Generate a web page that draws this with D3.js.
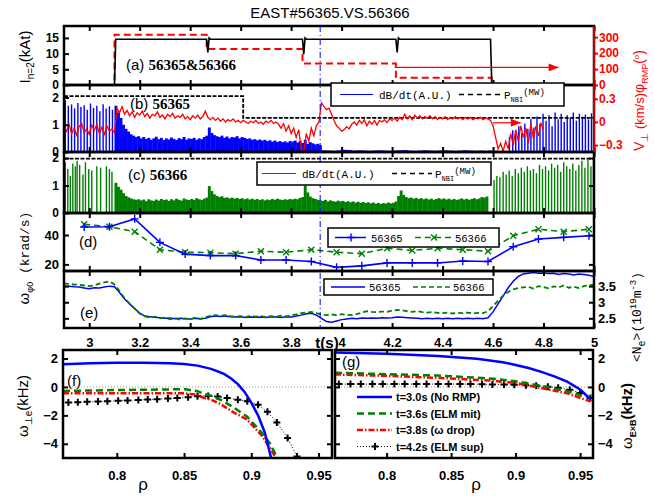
<!DOCTYPE html>
<html>
<head>
<meta charset="utf-8">
<script src="https://cdn.jsdelivr.net/npm/d3@7"></script>
<style>
body { margin: 0; background: #fff; }
svg { display: block; }
</style>
</head>
<body>
<div id="chart"></div>
<script>
// ---------- data ----------
const timeTickVals = [3.0, 3.2, 3.4, 3.6, 3.8, 4.0, 4.2, 4.4, 4.6, 4.8, 5.0];
const markerT = 3.915;

// (a) coil current and phase
const coilT = [2.90, 3.10, 3.105, 3.465, 3.47, 3.475, 3.48, 3.845, 3.85, 3.855, 3.86, 4.215, 4.22, 4.225, 4.23, 4.59, 4.595, 5.00];
const coilI = [0, 0, 14.6, 14.6, 10.4, 15.0, 14.6, 14.6, 9.8, 15.0, 14.6, 14.6, 10.4, 15.0, 14.6, 14.6, 0, 0];
const phaseT = [2.90, 3.10, 3.10, 3.465, 3.465, 3.845, 3.845, 4.215, 4.215, 4.595, 4.595, 5.00];
const phaseDeg = [0, 0, 315, 315, 225, 225, 135, 135, 45, 45, 0, 0];
const phaseArrowT = [4.21, 4.86], phaseArrowDeg = 110;

// (b) shot 56365
const nbi65T = [2.90, 3.61, 3.61, 5.00];
const nbi65P = [2.05, 2.05, 1.25, 1.25];
const elm65T = [2.905, 2.917, 2.930, 2.942, 2.955, 2.967, 2.980, 2.992, 3.005, 3.017, 3.030, 3.042, 3.055, 3.067, 3.080, 3.092];
const elm65H = [1.90, 1.70, 1.75, 1.60, 1.80, 1.65, 1.72, 1.55, 1.78, 1.62, 1.70, 1.50, 1.75, 1.60, 1.68, 1.55];
const dense65T0 = 3.10, denseStep = 0.01;
const dense65 = [
  1.70, 1.45, 1.25, 1.00, 0.85, 0.75, 0.65, 0.60, 0.55, 0.58,
  0.50, 0.55, 0.48, 0.52, 0.45, 0.50, 0.56, 0.47, 0.52, 0.44,
  0.50, 0.46, 0.53, 0.48, 0.44, 0.51, 0.47, 0.55, 0.45, 0.50,
  0.48, 0.52, 0.45, 0.50, 0.47, 0.55, 0.60, 0.90, 0.70, 0.62,
  0.58, 0.55, 0.60, 0.52, 0.57, 0.50, 0.55, 0.53, 0.58, 0.50,
  0.55, 0.52, 0.48, 0.50, 0.45, 0.47, 0.43, 0.46, 0.42, 0.45,
  0.40, 0.43, 0.38, 0.42, 0.37, 0.40, 0.36, 0.39, 0.35, 0.40,
  0.38, 0.42, 0.35, 0.40, 0.33, 0.45, 0.30, 0.36, 0.32, 0.28,
  0.30, 0.25];
const quiet65T0 = 3.92, quietStep = 0.02;
const quiet65 = [
  0.06, 0.05, 0.04, 0.06, 0.08, 0.07, 0.05, 0.06, 0.05, 0.04,
  0.05, 0.06, 0.05, 0.04, 0.05, 0.06, 0.07, 0.05, 0.04, 0.05,
  0.06, 0.05, 0.04, 0.05, 0.06, 0.05, 0.04, 0.05, 0.06, 0.05,
  0.04, 0.05, 0.04, 0.05, 0.04];
const late65T = [4.665, 4.678, 4.690, 4.702, 4.714, 4.726, 4.738, 4.750, 4.762, 4.774, 4.786, 4.798, 4.810, 4.822, 4.834, 4.846, 4.858, 4.870, 4.882, 4.894, 4.906, 4.918, 4.930, 4.942, 4.954, 4.966, 4.978, 4.990];
const late65H = [0.55, 0.80, 0.65, 0.95, 0.70, 1.05, 0.85, 1.20, 0.90, 1.30, 1.05, 1.40, 1.15, 1.35, 0.95, 1.45, 1.20, 1.40, 1.10, 1.35, 1.25, 1.45, 1.15, 1.40, 1.30, 1.38, 1.20, 1.42];
const vPerpT0 = 2.90, vPerpStep = 0.01;
const vPerp = [
  -0.05, -0.12, -0.03, -0.15, -0.08, -0.17, -0.06, -0.02, -0.14, -0.09,
  -0.16, -0.04, -0.11, -0.03, -0.15, -0.07, -0.16, -0.05, -0.12, -0.09,
  -0.14, 0.18, 0.12, 0.20, 0.10, 0.15, 0.08, 0.13, 0.06, 0.12,
  0.09, 0.14, 0.07, 0.11, 0.05, 0.10, 0.08, 0.13, 0.06, 0.09,
  0.04, 0.10, 0.07, 0.11, 0.05, 0.08, 0.06, 0.10, 0.04, 0.07,
  0.03, 0.08, 0.05, 0.09, 0.04, 0.07, 0.14, 0.06, 0.03, 0.06,
  0.02, 0.05, 0.01, 0.04, 0.00, 0.03, 0.01, 0.04, 0.00, 0.02,
  -0.01, 0.02, 0.00, -0.02, 0.01, -0.01, 0.02, -0.02, 0.00, -0.03,
  0.01, -0.01, 0.02, -0.02, 0.00, -0.03, -0.08, -0.02, -0.12, -0.05,
  -0.15, -0.08, -0.20, -0.10, -0.35, -0.40, -0.15, -0.25, -0.08, -0.18,
  -0.05, 0.00, 0.25, 0.20, 0.16, 0.18, 0.10, 0.02, -0.05, -0.08,
  -0.12, -0.10, -0.06, -0.09, -0.03, 0.00, -0.04, 0.02, -0.02, 0.03,
  -0.05, 0.01, -0.03, 0.02, -0.04, 0.02, 0.00, 0.03, -0.01, 0.04,
  0.02, 0.05, 0.01, 0.06, 0.03, 0.10, 0.04, 0.08, 0.03, 0.09,
  0.05, 0.08, 0.04, 0.07, 0.05, 0.08, 0.04, 0.07, 0.03, 0.06,
  0.04, 0.07, 0.03, 0.06, 0.04, 0.07, 0.04, 0.06, 0.03, 0.06,
  0.04, 0.06, 0.03, 0.05, 0.04, 0.06, 0.03, 0.05, 0.04, 0.02,
  -0.05, -0.20, -0.35, -0.28, -0.38, -0.25, -0.35, -0.15, -0.30, -0.10,
  -0.25, -0.05, -0.20, -0.08, -0.28, -0.02, -0.22, -0.05, -0.18, -0.02,
  -0.10];
const vArrowT = [4.60, 4.71], vArrowV = -0.01;

// (c) shot 56366
const nbi66T = [2.90, 5.00];
const nbi66P = [1.98, 1.98];
const elm66T = [2.905, 2.915, 2.925, 2.935, 2.945, 2.952, 2.962, 2.975, 2.985, 2.998, 3.010, 3.030, 3.045, 3.068, 3.080, 3.090];
const elm66H = [1.85, 1.60, 1.35, 1.80, 1.70, 1.90, 1.75, 1.40, 1.85, 1.60, 1.55, 1.70, 1.65, 1.70, 1.60, 1.50];
const dense66T0 = 3.10;
const dense66 = [
  1.10, 0.95, 0.85, 0.72, 0.62, 0.57, 0.53, 0.50, 0.48, 0.50,
  0.46, 0.49, 0.43, 0.50, 0.46, 0.44, 0.49, 0.45, 0.51, 0.47,
  0.49, 0.44, 0.50, 0.46, 0.52, 0.48, 0.45, 0.53, 0.49, 0.47,
  0.51, 0.48, 0.54, 0.50, 0.47, 0.52, 0.56, 0.98, 0.80, 0.68,
  0.62, 0.58, 0.61, 0.55, 0.57, 0.53, 0.56, 0.52, 0.55, 0.51,
  0.54, 0.50, 0.53, 0.49, 0.52, 0.48, 0.51, 0.47, 0.50, 0.46,
  0.49, 0.47, 0.51, 0.48, 0.52, 0.49, 0.47, 0.50, 0.48, 0.51,
  0.49, 0.52, 0.50, 0.55, 0.58, 1.00, 0.75, 0.60, 0.54, 0.51,
  0.48, 0.46, 0.44, 0.48, 0.42, 0.46, 0.43, 0.41, 0.45, 0.42,
  0.44, 0.40, 0.43, 0.39, 0.42, 0.38, 0.41, 0.37, 0.40, 0.36,
  0.39, 0.35, 0.38, 0.34, 0.37, 0.33, 0.36, 0.34, 0.38, 0.35,
  0.37, 0.42, 0.62, 0.82, 0.66, 0.58, 0.54, 0.56, 0.52, 0.55,
  0.51, 0.54, 0.50, 0.53, 0.49, 0.52, 0.48, 0.51, 0.54, 0.50,
  0.53, 0.49, 0.52, 0.48, 0.51, 0.47, 0.50, 0.53, 0.49, 0.52,
  0.48, 0.51, 0.54, 0.50, 0.53, 0.58, 0.56, 0.60];
const late66T = [4.604, 4.615, 4.627, 4.640, 4.652, 4.664, 4.676, 4.688, 4.700, 4.712, 4.724, 4.736, 4.748, 4.760, 4.772, 4.784, 4.796, 4.808, 4.820, 4.832, 4.844, 4.856, 4.868, 4.880, 4.892, 4.904, 4.916, 4.928, 4.940, 4.952, 4.964, 4.976, 4.988, 4.998];
const late66H = [1.20, 1.35, 1.30, 1.50, 1.40, 1.55, 1.35, 1.60, 1.45, 1.65, 1.50, 1.70, 1.55, 1.60, 1.45, 1.75, 1.60, 1.70, 1.55, 1.80, 1.65, 1.75, 1.50, 1.85, 1.70, 1.60, 1.80, 1.55, 1.75, 1.90, 1.65, 1.95, 1.70, 1.90];

// (d) core toroidal rotation
const rotT = [2.98, 3.08, 3.18, 3.28, 3.38, 3.48, 3.58, 3.68, 3.78, 3.88, 3.98, 4.08, 4.18, 4.28, 4.38, 4.48, 4.58, 4.68, 4.78, 4.88, 4.98];
const rot65 = [45.5, 45.6, 51.0, 35.0, 27.0, 26.0, 26.0, 23.0, 23.0, 22.0, 18.0, 19.0, 21.0, 21.0, 21.0, 22.3, 22.0, 32.0, 37.3, 38.4, 39.5];
const rot66 = [47.3, 45.6, 42.3, 30.0, 28.3, 28.0, 27.3, 29.0, 28.3, 30.0, 28.3, 27.3, 31.0, 29.5, 31.0, 30.0, 29.0, 39.5, 43.9, 42.3, 44.0];

// (e) line averaged density
const neT0 = 2.90, neStep = 0.02;
const ne65 = [
  3.50, 3.50, 3.48, 3.47, 3.44, 3.42, 3.45, 3.44, 3.47, 3.50,
  3.48, 3.30, 3.10, 2.95, 2.80, 2.66, 2.57, 2.55, 2.53, 2.52,
  2.50, 2.51, 2.49, 2.50, 2.49, 2.48, 2.50, 2.49, 2.50, 2.55,
  2.57, 2.56, 2.57, 2.55, 2.54, 2.55, 2.53, 2.54, 2.53, 2.54,
  2.53, 2.55, 2.54, 2.53, 2.55, 2.54, 2.57, 2.60, 2.64, 2.66,
  2.60, 2.50, 2.40, 2.38, 2.42, 2.46, 2.48, 2.50, 2.49, 2.51,
  2.50, 2.51, 2.50, 2.52, 2.51, 2.52, 2.54, 2.53, 2.52, 2.51,
  2.50, 2.49, 2.50, 2.49, 2.50, 2.49, 2.50, 2.49, 2.50, 2.49,
  2.50, 2.49, 2.50, 2.49, 2.52, 2.70, 2.95, 3.20, 3.45, 3.65,
  3.80, 3.88, 3.90, 3.92, 3.90, 3.91, 3.89, 3.90, 3.86, 3.89,
  3.88, 3.85, 3.88, 3.86, 3.84, 3.80];
const ne66 = [
  3.58, 3.57, 3.55, 3.54, 3.52, 3.50, 3.52, 3.58, 3.62, 3.65,
  3.55, 3.35, 3.12, 2.96, 2.80, 2.65, 2.56, 2.52, 2.55, 2.50,
  2.53, 2.47, 2.51, 2.46, 2.50, 2.47, 2.52, 2.48, 2.53, 2.58,
  2.60, 2.58, 2.60, 2.57, 2.55, 2.57, 2.54, 2.58, 2.55, 2.57,
  2.54, 2.57, 2.55, 2.58, 2.56, 2.60, 2.62, 2.66, 2.68, 2.70,
  2.66, 2.62, 2.60, 2.62, 2.60, 2.63, 2.61, 2.60, 2.63, 2.68,
  2.72, 2.70, 2.69, 2.71, 2.70, 2.74, 2.76, 2.75, 2.72, 2.70,
  2.72, 2.69, 2.68, 2.70, 2.67, 2.66, 2.68, 2.65, 2.67, 2.66,
  2.68, 2.65, 2.67, 2.66, 2.72, 2.88, 3.05, 3.20, 3.32, 3.40,
  3.44, 3.46, 3.48, 3.42, 3.50, 3.47, 3.43, 3.49, 3.46, 3.52,
  3.45, 3.48, 3.44, 3.50, 3.53, 3.55];

// (f) electron perpendicular rotation profiles
const fRho30 = [0.76, 0.78, 0.80, 0.82, 0.84, 0.85, 0.86, 0.87, 0.875, 0.88, 0.885, 0.89, 0.895, 0.90, 0.905, 0.91, 0.915];
const fW30 = [1.60, 1.66, 1.70, 1.70, 1.67, 1.62, 1.50, 1.27, 1.10, 0.90, 0.60, 0.20, -0.35, -1.10, -2.00, -3.20, -5.10];
const fRho36 = [0.76, 0.78, 0.80, 0.82, 0.84, 0.85, 0.86, 0.865, 0.87, 0.877, 0.887, 0.897, 0.908, 0.914, 0.92];
const fW36 = [-0.28, -0.25, -0.22, -0.20, -0.17, -0.15, -0.30, -0.50, -0.62, -0.90, -1.45, -2.10, -3.25, -4.00, -5.10];
const fRho38 = [0.76, 0.80, 0.84, 0.85, 0.86, 0.864, 0.87, 0.877, 0.887, 0.897, 0.908, 0.914, 0.919];
const fW38 = [-0.45, -0.45, -0.45, -0.45, -0.55, -0.75, -0.90, -1.20, -1.80, -2.30, -3.45, -4.30, -5.10];
const fRho42 = [0.764, 0.771, 0.778, 0.786, 0.793, 0.801, 0.808, 0.816, 0.823, 0.830, 0.838, 0.845, 0.853, 0.860, 0.868, 0.875, 0.882, 0.890, 0.897, 0.905, 0.912, 0.919, 0.927, 0.934];
const fW42 = [-1.10, -1.08, -1.05, -1.03, -1.00, -0.98, -0.95, -0.92, -0.89, -0.86, -0.82, -0.78, -0.72, -0.65, -0.63, -0.68, -0.78, -0.90, -1.00, -1.25, -1.75, -2.50, -3.60, -4.90];

// (g) ExB rotation profiles
const gRho30 = [0.76, 0.80, 0.84, 0.87, 0.89, 0.90, 0.91, 0.92, 0.93, 0.94, 0.95, 0.958];
const gW30 = [2.42, 2.33, 2.18, 1.98, 1.74, 1.55, 1.33, 1.06, 0.74, 0.37, -0.18, -0.85];
const gRho36 = [0.76, 0.80, 0.84, 0.88, 0.90, 0.92, 0.94, 0.958];
const gW36 = [1.00, 0.90, 0.80, 0.60, 0.40, 0.08, -0.30, -0.78];
const gRho38 = [0.76, 0.80, 0.84, 0.88, 0.90, 0.92, 0.94, 0.958];
const gW38 = [0.88, 0.78, 0.64, 0.45, 0.28, -0.08, -0.45, -1.02];
const gRho42 = [0.763, 0.772, 0.780, 0.789, 0.797, 0.806, 0.814, 0.823, 0.831, 0.840, 0.848, 0.857, 0.865, 0.874, 0.882, 0.891, 0.899, 0.908, 0.916, 0.925, 0.933, 0.942, 0.950, 0.958];
const gW42 = [0.20, 0.20, 0.20, 0.20, 0.20, 0.20, 0.20, 0.20, 0.20, 0.20, 0.20, 0.20, 0.20, 0.19, 0.18, 0.17, 0.15, 0.12, 0.08, 0.02, -0.06, -0.20, -0.42, -0.78];
const legendG = ["t=3.0s (No RMP)", "t=3.6s (ELM mit)", "t=3.8s (\u03c9 drop)", "t=4.2s (ELM sup)"];

// ---------- setup ----------
const BLUE = "#0000ff", RED = "#ff0000", GREEN = "#008000";
const SANS = "'Liberation Sans', Arial, sans-serif";
const MONO = "'Liberation Mono', 'DejaVu Sans Mono', monospace";
const SERIF = "'Liberation Serif', 'Times New Roman', serif";
const svg = d3.select("#chart").append("svg").attr("width", 654).attr("height", 496)
    .attr("font-family", SANS);
const defs = svg.append("defs");
defs.append("marker").attr("id", "arrowRed").attr("viewBox", "0 0 10 8")
    .attr("refX", 10).attr("refY", 4).attr("markerWidth", 12).attr("markerHeight", 8)
    .attr("markerUnits", "userSpaceOnUse").attr("orient", "auto")
    .append("path").attr("d", "M0,0L10,4L0,8Z").attr("fill", RED);

const xT = d3.scaleLinear().domain([2.9, 5.0]).range([64, 594]);
const yA = d3.scaleLinear().domain([0, 18.8]).range([85, 26]);
const yPhi = d3.scaleLinear().domain([0, 370]).range([85, 26]);
const yB = d3.scaleLinear().domain([0, 2.46]).range([152, 85]);
const yV = d3.scaleLinear().domain([-0.39, 0.48]).range([152, 85]);
const yC = d3.scaleLinear().domain([0, 2.22]).range([213, 152]);
const yD = d3.scaleLinear().domain([15.5, 55]).range([271, 213]);
const yE = d3.scaleLinear().domain([2.2, 3.97]).range([328, 271]);
const xF = d3.scaleLinear().domain([0.76, 0.96]).range([63, 332]);
const xG = d3.scaleLinear().domain([0.76, 0.96]).range([335, 593]);
const yW = d3.scaleLinear().domain([-5, 2.6]).range([458, 350]);

function clipGroup(id, x0, x1, y0, y1) {
    defs.append("clipPath").attr("id", id).append("rect")
        .attr("x", x0).attr("y", y0).attr("width", x1 - x0).attr("height", y1 - y0);
    return svg.append("g").attr("clip-path", `url(#${id})`);
}

function bars(g, t0, step, vals, y, color) {
    const w = xT(t0 + step) - xT(t0) + 0.4;
    g.selectAll(null).data(vals).enter().append("rect")
        .attr("x", (v, i) => xT(t0 + i * step))
        .attr("width", w)
        .attr("y", v => y(v))
        .attr("height", v => y(0) - y(v))
        .attr("fill", color);
}

function spikes(g, ts, hs, y, color) {
    g.selectAll(null).data(ts).enter().append("line")
        .attr("x1", t => xT(t)).attr("x2", t => xT(t))
        .attr("y1", y(0)).attr("y2", (t, i) => y(hs[i]))
        .attr("stroke", color).attr("stroke-width", 1.4);
}

function pathLine(g, xs, ys, xScale, yScale, color, width, dash) {
    const pts = xs.map((x, i) => [x, ys[i]]);
    return g.append("path").datum(pts)
        .attr("d", d3.line().x(d => xScale(d[0])).y(d => yScale(d[1])))
        .attr("fill", "none").attr("stroke", color).attr("stroke-width", width)
        .attr("stroke-dasharray", dash || null);
}

const plusPath = s => `M${-s},0H${s}M0,${-s}V${s}`;
const crossPath = s => `M${-s},${-s}L${s},${s}M${-s},${s}L${s},${-s}`;

function markers(g, xs, ys, xScale, yScale, shape, color, width) {
    g.selectAll(null).data(xs).enter().append("path")
        .attr("transform", (x, i) => `translate(${xScale(x)},${yScale(ys[i])})`)
        .attr("d", shape).attr("fill", "none").attr("stroke", color).attr("stroke-width", width);
}

// ---------- (a) ----------
const gA = clipGroup("clipA", 64, 594, 26, 85);
pathLine(gA, phaseT, phaseDeg, xT, yPhi, RED, 2, "7,4");
pathLine(gA, coilT, coilI, xT, yA, "#000", 1.6);
gA.append("line")
    .attr("x1", xT(phaseArrowT[0])).attr("x2", xT(phaseArrowT[1]))
    .attr("y1", yPhi(phaseArrowDeg)).attr("y2", yPhi(phaseArrowDeg))
    .attr("stroke", RED).attr("stroke-width", 1.3).attr("marker-end", "url(#arrowRed)");

// ---------- (b) ----------
const gB = clipGroup("clipB", 64, 594, 85, 152);
spikes(gB, elm65T, elm65H, yB, BLUE);
bars(gB, dense65T0, denseStep, dense65, yB, BLUE);
bars(gB, quiet65T0, quietStep, quiet65, yB, BLUE);
spikes(gB, late65T, late65H, yB, BLUE);
pathLine(gB, nbi65T, nbi65P, xT, yB, "#000", 1.8, "4,1.5");
pathLine(gB, vPerp.map((v, i) => vPerpT0 + i * vPerpStep), vPerp, xT, yV, RED, 1.3);
gB.append("line")
    .attr("x1", xT(vArrowT[0])).attr("x2", xT(vArrowT[1]))
    .attr("y1", yV(vArrowV)).attr("y2", yV(vArrowV))
    .attr("stroke", RED).attr("stroke-width", 1.2).attr("marker-end", "url(#arrowRed)");

// ---------- (c) ----------
const gC = clipGroup("clipC", 64, 594, 152, 213);
spikes(gC, elm66T, elm66H, yC, GREEN);
bars(gC, dense66T0, denseStep, dense66, yC, GREEN);
spikes(gC, late66T, late66H, yC, GREEN);
pathLine(gC, nbi66T, nbi66P, xT, yC, "#000", 1.8, "4,1.5");

// ---------- (d) ----------
const gD = clipGroup("clipD", 64, 594, 213, 271);
pathLine(gD, rotT, rot66, xT, yD, GREEN, 1.6, "6,4");
markers(gD, rotT, rot66, xT, yD, crossPath(3), GREEN, 1.4);
pathLine(gD, rotT, rot65, xT, yD, BLUE, 1.6);
markers(gD, rotT, rot65, xT, yD, plusPath(4), BLUE, 1.4);

// ---------- (e) ----------
const gE = clipGroup("clipE", 64, 594, 271, 328);
const neT = ne65.map((v, i) => neT0 + i * neStep);
pathLine(gE, neT, ne65, xT, yE, BLUE, 1.5);
pathLine(gE, neT, ne66, xT, yE, GREEN, 1.8, "5,3");

// ---------- (f) and (g) ----------
const gF = clipGroup("clipF", 63, 332, 350, 458);
const gG = clipGroup("clipG", 335, 593, 350, 458);
[[gF, xF], [gG, xG]].forEach(([g, xs]) => {
    g.append("line").attr("x1", xs(0.76)).attr("x2", xs(0.96))
        .attr("y1", yW(0)).attr("y2", yW(0))
        .attr("stroke", "#999").attr("stroke-width", 1).attr("stroke-dasharray", "1,2");
});
pathLine(gF, fRho42, fW42, xF, yW, "#000", 1, "1,2");
markers(gF, fRho42, fW42, xF, yW, plusPath(3.5), "#000", 2);
pathLine(gF, fRho38, fW38, xF, yW, RED, 2.5, "6,2,1.5,2");
pathLine(gF, fRho36, fW36, xF, yW, GREEN, 2.5, "7,4");
pathLine(gF, fRho30, fW30, xF, yW, BLUE, 2.5);

pathLine(gG, gRho42, gW42, xG, yW, "#000", 1, "1,2");
markers(gG, gRho42, gW42, xG, yW, plusPath(3.5), "#000", 2);
pathLine(gG, gRho38, gW38, xG, yW, RED, 2.5, "6,2,1.5,2");
pathLine(gG, gRho36, gW36, xG, yW, GREEN, 2.5, "7,4");
pathLine(gG, gRho30, gW30, xG, yW, BLUE, 2.5);

// ---------- frames and axes ----------
function styleAxis(g, color, size) {
    g.attr("font-family", SANS).attr("font-size", size || 13).attr("font-weight", "bold");
    g.select(".domain").remove();
    g.selectAll(".tick line").attr("stroke", color || "#000").attr("stroke-width", 2);
    g.selectAll(".tick text").attr("fill", color || "#000");
    return g;
}

function axisAt(axis, tx, ty, color, size) {
    return styleAxis(svg.append("g").attr("transform", `translate(${tx},${ty})`).call(axis), color, size);
}

const fmt = d3.format("~g");
const timePanels = [[26, 85], [85, 152], [152, 213], [213, 271], [271, 328]];
timePanels.forEach(([top, bottom], i) => {
    axisAt(d3.axisTop(xT).tickValues(timeTickVals).tickSize(-5).tickFormat(""), 0, top);
    const ax = d3.axisBottom(xT).tickValues(timeTickVals).tickSize(-5).tickPadding(10);
    axisAt(i === 4 ? ax.tickFormat(fmt) : ax.tickFormat(""), 0, bottom);
});

axisAt(d3.axisLeft(yA).tickValues([0, 5, 10, 15]).tickSize(-5).tickPadding(5).tickFormat(fmt), 64, 0, null, 12);
axisAt(d3.axisRight(yPhi).tickValues([0, 100, 200, 300]).tickSize(4).tickPadding(1).tickFormat(fmt), 594, 0, RED, 12);
axisAt(d3.axisLeft(yB).tickValues([0, 1, 2]).tickSize(-5).tickPadding(5).tickFormat(fmt), 64, 0, null, 12);
axisAt(d3.axisRight(yV).tickValues([-0.3, 0, 0.3]).tickSize(4).tickPadding(1).tickFormat(fmt), 594, 0, RED, 12);
axisAt(d3.axisLeft(yC).tickValues([0, 1, 2]).tickSize(-5).tickPadding(5).tickFormat(fmt), 64, 0, null, 12);
axisAt(d3.axisRight(yC).tickValues([1, 2]).tickSize(-5).tickFormat(""), 594, 0);
axisAt(d3.axisLeft(yD).tickValues([20, 40]).tickSize(-5).tickPadding(5).tickFormat(fmt), 64, 0);
axisAt(d3.axisRight(yD).tickValues([20, 40]).tickSize(-5).tickFormat(""), 594, 0);
axisAt(d3.axisLeft(yE).tickValues([2.5, 3, 3.5]).tickSize(-5).tickFormat(""), 64, 0);
axisAt(d3.axisRight(yE).tickValues([2.5, 3, 3.5]).tickSize(-5).tickPadding(4).tickFormat(fmt), 594, 0);

const rhoTicks = [0.8, 0.85, 0.9, 0.95];
const wTicks = [-4, -2, 0, 2];
[[xF, 63, 332], [xG, 335, 593]].forEach(([xs, x0, x1], i) => {
    axisAt(d3.axisTop(xs).tickValues(rhoTicks).tickSize(-5).tickFormat(""), 0, 350);
    axisAt(d3.axisBottom(xs).tickValues(rhoTicks).tickSize(-5).tickPadding(13).tickFormat(fmt), 0, 458);
    const left = d3.axisLeft(yW).tickValues(wTicks).tickSize(-5).tickPadding(5).tickFormat(fmt);
    const right = d3.axisRight(yW).tickValues(wTicks).tickSize(-5).tickPadding(5).tickFormat(fmt);
    axisAt(i === 0 ? left : left.tickFormat(""), x0, 0);
    axisAt(i === 1 ? right : right.tickFormat(""), x1, 0);
});

const frames = [[64, 594, 26, 85], [64, 594, 85, 152], [64, 594, 152, 213], [64, 594, 213, 271], [64, 594, 271, 328],
                [63, 332, 350, 458], [335, 593, 350, 458]];
svg.selectAll(null).data(frames).enter().append("rect")
    .attr("x", d => d[0]).attr("y", d => d[2])
    .attr("width", d => d[1] - d[0]).attr("height", d => d[3] - d[2])
    .attr("fill", "none").attr("stroke", "#000").attr("stroke-width", 2.5);
svg.append("line").attr("x1", 594).attr("x2", 594).attr("y1", 26).attr("y2", 152)
    .attr("stroke", RED).attr("stroke-width", 1.5);

// time of the omega drop
svg.append("line").attr("x1", xT(markerT)).attr("x2", xT(markerT)).attr("y1", 26).attr("y2", 328)
    .attr("stroke", BLUE).attr("stroke-width", 1).attr("stroke-dasharray", "6,3,1,3");

// ---------- legends ----------
function box(x0, y0, x1, y1) {
    svg.append("rect").attr("x", x0).attr("y", y0).attr("width", x1 - x0).attr("height", y1 - y0)
        .attr("fill", "#fff").attr("stroke", "#000").attr("stroke-width", 1.5);
}
function sample(x0, x1, y, color, width, dash) {
    svg.append("line").attr("x1", x0).attr("x2", x1).attr("y1", y).attr("y2", y)
        .attr("stroke", color).attr("stroke-width", width).attr("stroke-dasharray", dash || null);
}
function monoText(x, y, s, size) {
    return svg.append("text").attr("x", x).attr("y", y).attr("font-family", MONO)
        .attr("font-size", size || 11).text(s);
}
function nbiText(x, y) {
    const t = svg.append("text").attr("x", x).attr("y", y).attr("font-family", MONO);
    t.append("tspan").attr("font-size", 11).text("P");
    t.append("tspan").attr("font-size", 7).attr("dy", 3).text("NBI");
    t.append("tspan").attr("font-size", 9).attr("dy", -7).text("(MW)");
}

box(331, 83, 564, 106);
sample(340, 373, 94.5, BLUE, 1.2);
monoText(379, 98.5, "dB/dt(A.U.)");
sample(459, 501, 94.5, "#000", 1.5, "5,4");
nbiText(504, 98.5);

box(257, 162, 491, 185);
sample(262, 296, 173.5, GREEN, 1.2);
monoText(302, 177.5, "dB/dt(A.U.)");
sample(392, 432, 173.5, "#000", 1.5, "5,4");
nbiText(435, 177.5);

box(328, 228, 499, 247);
sample(335, 366, 237.5, BLUE, 1.5);
svg.append("path").attr("transform", "translate(351,237.5)").attr("d", plusPath(4)).attr("stroke", BLUE).attr("stroke-width", 1.4);
monoText(371, 241.5, "56365", 10.5);
sample(415, 451, 237.5, GREEN, 1.5, "6,4");
svg.append("path").attr("transform", "translate(434,237.5)").attr("d", crossPath(3)).attr("stroke", GREEN).attr("stroke-width", 1.4);
monoText(455, 241.5, "56366", 10.5);

box(324, 279, 493, 295);
sample(331, 365, 287, BLUE, 1.5);
monoText(369, 291, "56365", 10.5);
sample(413, 451, 287, GREEN, 1.5, "5,3");
monoText(453, 291, "56366", 10.5);

const gStyles = [[BLUE, null], [GREEN, "7,4"], [RED, "6,2,1.5,2"], ["#000", "1,2"]];
legendG.forEach((s, i) => {
    const y = 397 + i * 16.5;
    sample(357, 392, y, gStyles[i][0], i === 3 ? 1 : 2.5, gStyles[i][1]);
    if (i === 3) svg.append("path").attr("transform", `translate(375,${y})`).attr("d", plusPath(3.5)).attr("stroke", "#000").attr("stroke-width", 2);
    svg.append("text").attr("x", 396).attr("y", y + 4).attr("font-size", 11).attr("font-weight", "bold").text(s);
});

// ---------- panel tags ----------
function tag(x, y, s, size) {
    return svg.append("text").attr("x", x).attr("y", y).attr("font-size", size || 15).text(s);
}
const ta = tag(126, 70, "(a) ");
ta.append("tspan").attr("font-family", SERIF).attr("font-weight", "bold").text("56365&56366");
const tb = tag(130, 109, "(b) ");
tb.append("tspan").attr("font-family", SERIF).attr("font-weight", "bold").text("56365");
const tc = tag(128, 180, "(c) ");
tc.append("tspan").attr("font-family", SERIF).attr("font-weight", "bold").text("56366");
tag(79, 247, "(d)");
tag(80, 318, "(e)");
tag(67, 386, "(f)");
tag(342, 367, "(g)");

// ---------- titles and axis labels ----------
svg.append("text").attr("x", 330).attr("y", 18).attr("text-anchor", "middle").attr("font-size", 15)
    .text("EAST#56365.VS.56366");
svg.append("text").attr("x", 327).attr("y", 348).attr("text-anchor", "middle").attr("font-size", 15)
    .attr("font-weight", "bold").text("t(s)");
[[xF, 143], [xG, 476]].forEach(([xs, cx]) => {
    svg.append("text").attr("x", cx).attr("y", 490).attr("text-anchor", "middle").attr("font-size", 17).text("\u03c1");
});

function vLabel(x, y, anchor, parts, color) {
    const t = svg.append("text").attr("transform", `translate(${x},${y}) rotate(-90)`)
        .attr("text-anchor", anchor).attr("fill", color || "#000");
    parts.forEach(p => {
        const s = t.append("tspan").attr("font-size", p.size).text(p.text);
        if (p.dy) s.attr("dy", p.dy);
        if (p.mono) s.attr("font-family", MONO);
        if (p.bold) s.attr("font-weight", "bold");
    });
    return t;
}

vLabel(30, 57, "middle", [
    {text: "I", size: 15}, {text: "n=2", size: 10, dy: 4}, {text: "(kAt)", size: 15, dy: -4}]);
vLabel(29, 258, "middle", [
    {text: "\u03c9", size: 15}, {text: "\u03c60", size: 9, dy: 4}, {text: " (krad/s)", size: 13, dy: -4, mono: true}]);
vLabel(28, 406, "middle", [
    {text: "\u03c9", size: 15}, {text: "\u22a5e", size: 10, dy: 4}, {text: "(kHz)", size: 15, dy: -4}]);
vLabel(644, 151, "start", [
    {text: "V", size: 14}, {text: "\u22a5", size: 10, dy: 4}, {text: " (km/s)", size: 13, dy: -4},
    {text: "\u03c6", size: 14}, {text: "RMP", size: 9, dy: 4}, {text: "(", size: 14, dy: -4},
    {text: "o", size: 8, dy: -5}, {text: ")", size: 14, dy: 5}], RED);
vLabel(641, 362, "start", [
    {text: "<N", size: 13, mono: true}, {text: "e", size: 10, dy: 4, mono: true},
    {text: ">(10", size: 13, dy: -4, mono: true}, {text: "19", size: 9, dy: -5, mono: true},
    {text: "m", size: 13, dy: 5, mono: true}, {text: "-3", size: 9, dy: -5, mono: true},
    {text: ")", size: 13, dy: 5, mono: true}]);
vLabel(632, 416, "middle", [
    {text: "\u03c9", size: 15}, {text: "E\u00d7B", size: 9, dy: 4, bold: true}, {text: "(kHz)", size: 15, dy: -4, bold: true}]);
</script>
</body>
</html>
